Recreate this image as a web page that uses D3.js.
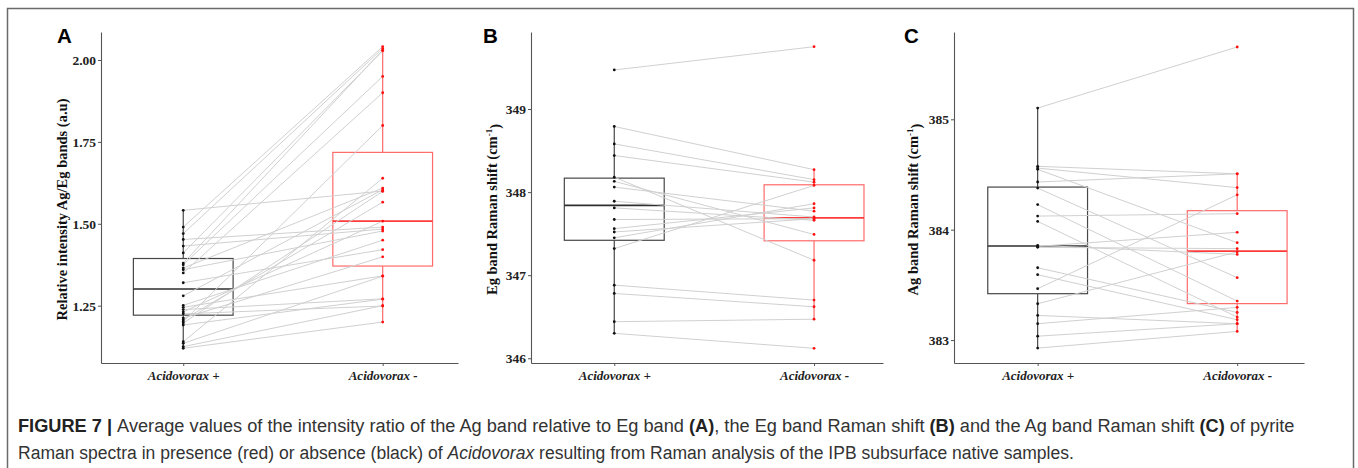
<!DOCTYPE html>
<html><head><meta charset="utf-8">
<script src="https://cdn.jsdelivr.net/npm/d3@7"></script>
<style>body{margin:0;background:#fff;} svg{display:block}</style>
</head><body>
<svg id="chart" width="1358" height="468"></svg>
<script>
const categories = ["Acidovorax +", "Acidovorax -"];

// Panel A : relative intensity Ag/Eg (paired samples, same order)
const aPlus  = [1.541, 1.490, 1.470, 1.452, 1.432, 1.411, 1.380, 1.375, 1.365, 1.360, 1.350, 1.320, 1.280, 1.251,
                1.245, 1.238, 1.231, 1.225, 1.212, 1.207, 1.202, 1.197, 1.191, 1.140, 1.135, 1.125, 1.120];
const aMinus = [1.600, 2.041, 2.035, 1.490, 1.484, 2.028, 2.030, 1.950, 1.609, 1.478, 1.900, 1.421, 1.604, 1.450,
                1.341, 1.271, 1.508, 1.249, 1.399, 1.566, 1.800, 1.599, 1.270, 1.639, 1.340, 1.250, 1.200];
const aQ1 = [1.221, 1.371];
const aMedian = [1.301, 1.508];
const aQ3 = [1.394, 1.718];
const aLow = [1.120, 1.200];
const aHigh = [1.541, 2.041];
const aTicks = [1.25, 1.50, 1.75, 2.00];

// Panel B : Eg band Raman shift
const bPlus  = [349.47, 348.79, 348.58, 348.44, 348.18, 348.13, 348.06, 347.89, 347.81, 347.67, 347.56, 347.52,
                347.45, 347.32, 346.88, 346.78, 346.44, 346.30];
const bMinus = [349.75, 348.27, 348.15, 348.12, 347.18, 347.49, 347.77, 347.70, 347.66, 347.68, 347.81, 347.68,
                347.86, 348.08, 346.70, 346.62, 346.47, 346.12];
const bQ1 = [347.42, 347.414];
const bMedian = [347.84, 347.69];
const bQ3 = [348.168, 348.088];
const bLow = [346.30, 346.47];
const bHigh = [348.79, 348.27];
const bTicks = [346, 347, 348, 349];

// Panel C : Ag band Raman shift
const cPlus  = [385.102, 384.574, 384.558, 384.547, 384.432, 384.377, 384.227, 384.123, 384.075, 383.858,
                383.849, 383.840, 383.655, 383.592, 383.465, 383.329, 383.223, 383.148, 383.035, 382.927];
const cMinus = [385.655, 384.506, 384.381, 383.882, 384.506, 383.565, 383.353, 384.145, 383.208, 383.776,
                383.976, 383.828, 383.250, 383.184, 384.316, 383.799, 383.148, 383.296, 383.148, 383.078];
const cQ1 = [383.42, 383.33];
const cMedian = [383.852, 383.806];
const cQ3 = [384.386, 384.172];
const cLow = [382.927, 383.078];
const cHigh = [385.102, 384.506];
const cTicks = [383, 384, 385];

const panels = [
  {letter: "A", plus: aPlus, minus: aMinus, q1: aQ1, med: aMedian, q3: aQ3, lo: aLow, hi: aHigh, ticks: aTicks,
   fmt: d3.format(".2f"), yDomain: [1.075, 2.0855], x0: 101, x1: 458, pad: 0.395, align: 0.522,
   titleX: 62, letterX: 57, title: ["Relative intensity Ag/Eg bands (a.u)"]},
  {letter: "B", plus: bPlus, minus: bMinus, q1: bQ1, med: bMedian, q3: bQ3, lo: bLow, hi: bHigh, ticks: bTicks,
   fmt: d3.format("d"), yDomain: [345.943, 349.927], x0: 531, x1: 883, pad: 0.381, align: 0.547,
   titleX: 492, letterX: 483, title: ["Eg band Raman shift (cm", "-1", ")"]},
  {letter: "C", plus: cPlus, minus: cMinus, q1: cQ1, med: cMedian, q3: cQ3, lo: cLow, hi: cHigh, ticks: cTicks,
   fmt: d3.format("d"), yDomain: [382.792, 385.791], x0: 954, x1: 1304, pad: 0.377, align: 0.556,
   titleX: 913, letterX: 904, title: ["Ag band Raman shift (cm", "-1", ")"]}
];

const svg = d3.select("#chart");
const Y0 = 363, Y1 = 32;
const serif = "'Liberation Serif', 'DejaVu Serif', serif";
const sans = "'Liberation Sans', Arial, sans-serif";

// outer frame
svg.append("path").attr("d", "M7.5,475 V8.5 H1353.5 V475")
  .attr("fill", "none").attr("stroke", "#6a6a6a").attr("stroke-width", 1.5);

const boxStroke = ["#474747", "#ff6a6a"];
const medStroke = ["#2e2e2e", "#ff3b3b"];
const dotFill = ["#111", "#ff1010"];

panels.forEach(p => {
  const g = svg.append("g");
  const y = d3.scaleLinear().domain(p.yDomain).range([Y0, Y1]);
  const x = d3.scalePoint().domain(categories).range([p.x0, p.x1]).padding(p.pad).align(p.align);
  const bw = x.step() * 0.5;

  // boxes + whiskers
  categories.forEach((c, i) => {
    const cx = x(c);
    g.append("line").attr("x1", cx).attr("x2", cx).attr("y1", y(p.hi[i])).attr("y2", y(p.q3[i]))
      .attr("stroke", boxStroke[i]).attr("stroke-width", 1.2);
    g.append("line").attr("x1", cx).attr("x2", cx).attr("y1", y(p.q1[i])).attr("y2", y(p.lo[i]))
      .attr("stroke", boxStroke[i]).attr("stroke-width", 1.2);
    g.append("rect").attr("x", cx - bw / 2).attr("y", y(p.q3[i]))
      .attr("width", bw).attr("height", y(p.q1[i]) - y(p.q3[i]))
      .attr("fill", "#fff").attr("stroke", boxStroke[i]).attr("stroke-width", 1.2);
    g.append("line").attr("x1", cx - bw / 2).attr("x2", cx + bw / 2)
      .attr("y1", y(p.med[i])).attr("y2", y(p.med[i]))
      .attr("stroke", medStroke[i]).attr("stroke-width", 1.6);
  });

  // paired lines
  g.selectAll("line.pair").data(d3.range(p.plus.length)).join("line").attr("class", "pair")
    .attr("x1", x(categories[0])).attr("y1", j => y(p.plus[j]))
    .attr("x2", x(categories[1])).attr("y2", j => y(p.minus[j]))
    .attr("stroke", "#d0d0d0").attr("stroke-width", 1);

  // points
  [p.plus, p.minus].forEach((arr, i) => {
    g.selectAll("circle.s" + i).data(arr).join("circle").attr("class", "s" + i)
      .attr("cx", x(categories[i])).attr("cy", d => y(d)).attr("r", 1.4).attr("fill", dotFill[i]);
  });

  // axes
  const ya = g.append("g").attr("transform", `translate(${p.x0},0)`)
    .call(d3.axisLeft(y).tickValues(p.ticks).tickFormat(p.fmt).tickSize(3).tickSizeOuter(0));
  ya.select(".domain").attr("stroke", "#555").attr("stroke-width", 1.1);
  ya.selectAll(".tick line").attr("stroke", "#555");
  ya.selectAll(".tick text").attr("font-family", serif).attr("font-weight", "bold")
    .attr("font-size", 13.5).attr("fill", "#222").attr("x", -5);

  const xa = g.append("g").attr("transform", `translate(0,${Y0})`)
    .call(d3.axisBottom(x).tickSize(3).tickSizeOuter(0));
  xa.select(".domain").attr("stroke", "#555").attr("stroke-width", 1.1);
  xa.selectAll(".tick line").attr("stroke", "#555");
  xa.selectAll(".tick text").attr("font-family", serif).attr("font-weight", "bold")
    .attr("font-style", "italic").attr("font-size", 13).attr("fill", "#222").attr("dy", "0.9em").attr("y", 5);

  // y title
  const t = g.append("text").attr("transform", `translate(${p.titleX},${(Y0 + Y1) / 2 + 12}) rotate(-90)`)
    .attr("text-anchor", "middle").attr("dy", "0.35em")
    .attr("font-family", serif).attr("font-weight", "bold").attr("font-size", 14.5).attr("fill", "#111");
  t.append("tspan").text(p.title[0]);
  if (p.title.length > 1) {
    t.append("tspan").attr("font-size", 9).attr("dy", "-0.6em").text(p.title[1]);
    t.append("tspan").attr("dy", "0.55em").text(p.title[2]);
  }

  // panel letter
  g.append("text").attr("x", p.letterX).attr("y", 43).attr("font-family", sans)
    .attr("font-weight", "bold").attr("font-size", 20.5).attr("fill", "#000").text(p.letter);
});

// caption (condensed look via horizontal scale of the whole line)
function captionLine(parts, yPos, targetWidth) {
  const g = svg.append("g");
  const txt = g.append("text").attr("x", 0).attr("y", 0).attr("font-family", sans)
    .attr("font-size", 19).attr("fill", "#333");
  parts.forEach(([s, style]) => {
    const ts = txt.append("tspan").text(s);
    if (style === "b") ts.attr("font-weight", "bold").attr("fill", "#222");
    if (style === "i") ts.attr("font-style", "italic");
  });
  const w = txt.node().getComputedTextLength();
  g.attr("transform", `translate(18,${yPos}) scale(${targetWidth / w},1)`);
}
captionLine([["FIGURE 7 | ", "b"], ["Average values of the intensity ratio of the Ag band relative to Eg band ", ""], ["(A)", "b"],
 [", the Eg band Raman shift ", ""], ["(B)", "b"], [" and the Ag band Raman shift ", ""], ["(C)", "b"],
 [" of pyrite", ""]], 432, 1277);
captionLine([["Raman spectra in presence (red) or absence (black) of ", ""], ["Acidovorax", "i"],
 [" resulting from Raman analysis of the IPB subsurface native samples.", ""]], 459, 1057);
</script>
</body></html>
